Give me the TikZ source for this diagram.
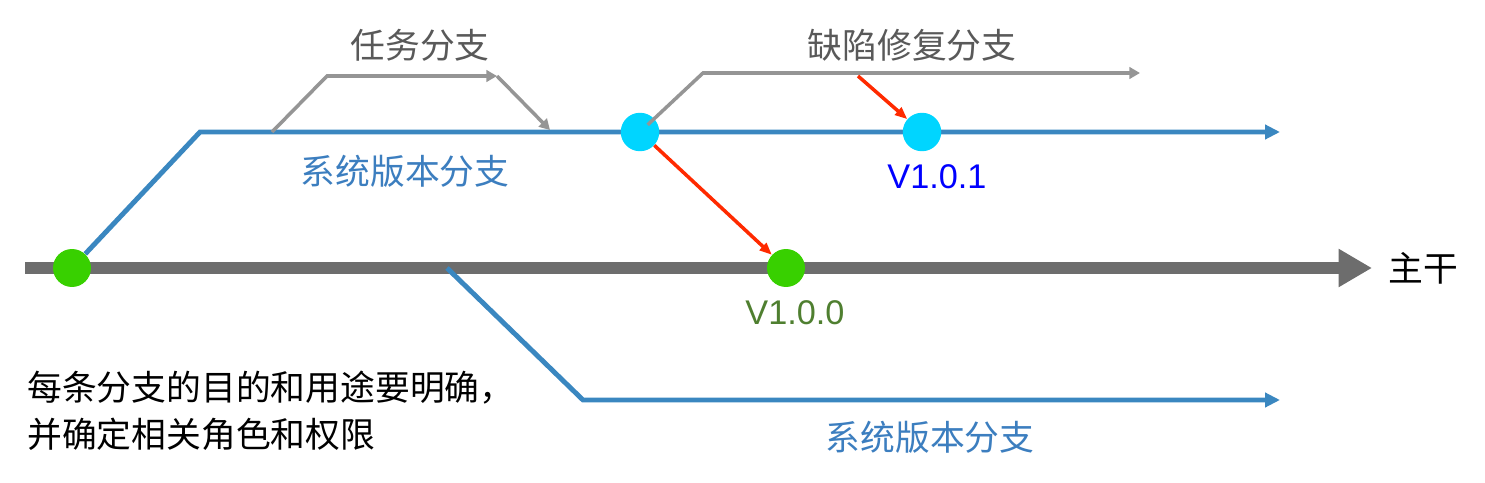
\documentclass[tikz,border=0pt]{standalone}
\usepackage{fontspec}
\setmainfont{Liberation Sans}
\newfontfamily\cjk{Noto Sans CJK SC}
\usepackage{tikz}
\usetikzlibrary{arrows.meta,backgrounds}
\definecolor{trunkgray}{HTML}{6D6D6D}
\definecolor{verblue}{HTML}{3A87C0}
\definecolor{taskgray}{HTML}{959595}
\definecolor{lblgray}{HTML}{595959}
\definecolor{lblblue}{HTML}{3C7EBF}
\definecolor{fixred}{HTML}{FF2A00}
\definecolor{relgreen}{HTML}{38D000}
\definecolor{fixcyan}{HTML}{00D5FF}
\definecolor{vgreen}{HTML}{4F7F30}
\begin{document}
\begin{tikzpicture}[x=0.02cm,y=-0.02cm,
  lbl/.style={font=\cjk\fontsize{19.8}{26.7}\selectfont},
  ver/.style={font=\fontsize{19.5}{24}\selectfont},
  rel/.style={circle,fill=relgreen,inner sep=0pt,minimum size=0.76cm},
  fix/.style={circle,fill=fixcyan,inner sep=0pt,minimum size=0.77cm},
  trunk/.style={trunkgray,line width=6.8pt,-{Triangle[length=19pt,width=20.5pt]}},
  vbranch/.style={verblue,line width=2.8pt,-{Triangle[length=8.5pt,width=8pt]}},
  tbranch/.style={taskgray,line width=2pt,-{Triangle[length=6pt,width=6.5pt]}},
  merge/.style={fixred,line width=2pt,-{Triangle[length=7pt,width=5.5pt]}}]
\useasboundingbox(0,0)rectangle(1485,483);
% points
\coordinate(t0)at(25,268);\coordinate(t1)at(1372,268);
\coordinate(b1)at(200,132);\coordinate(b2)at(1280,132);
\coordinate(ta)at(272,132);\coordinate(tb)at(327,76);\coordinate(tc)at(497,76);\coordinate(td)at(550,130);
\coordinate(f1)at(703,73);\coordinate(f2)at(1140,73);\coordinate(fm)at(858,76);
\coordinate(l0)at(447,268);\coordinate(l1)at(583,400);\coordinate(l2)at(1280,400);
% commits
\node[rel](g1)at(72,268){};\node[rel](g2)at(786,268){};
\node[fix](c1)at(640,132){};\node[fix](c2)at(922,132){};
% branches
\begin{scope}[on background layer]
\draw[trunk](t0)--(t1);
\draw[vbranch](g1)--(b1)--(b2);
\draw[vbranch](l0)--(l1)--(l2);
\draw[tbranch](ta)--(tb)--(tc);\draw[tbranch](tc)--(td);
\end{scope}
\draw[tbranch,shorten <=6pt](c1.center)--(f1)--(f2);
\draw[merge](c1)--(g2);\draw[merge](fm)--(c2);
% labels
\node[lbl,text=lblgray]at(420,45){任务分支};
\node[lbl,text=lblgray]at(912,45){缺陷修复分支};
\node[lbl,text=lblblue]at(405,171){系统版本分支};
\node[lbl,text=lblblue]at(930,437){系统版本分支};
\node[lbl]at(1423,268){主干};
\node[ver,text=blue]at(937,177){V1.0.1};
\node[ver,text=vgreen]at(795,313){V1.0.0};
\node[lbl,align=left,anchor=west,inner sep=0pt]at(27,411){每条分支的目的和用途要明确，\\并确定相关角色和权限};
\end{tikzpicture}
\end{document}
